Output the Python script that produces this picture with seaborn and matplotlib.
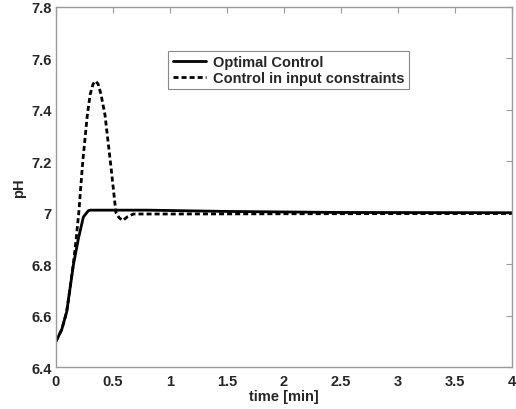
import matplotlib
matplotlib.use("Agg")
import matplotlib.pyplot as plt
import seaborn as sns
import pandas as pd

# Optimal control response
t_opt = [0, 0.05, 0.094, 0.123, 0.152, 0.196, 0.24, 0.284, 0.3, 0.8, 1.5, 2.5, 4.0]
ph_opt = [6.5, 6.545, 6.615, 6.705, 6.795, 6.898, 6.983, 7.008, 7.01, 7.01, 7.005, 7.001, 7.0]

# Control with input constraints
t_con = [0, 0.05, 0.094, 0.123, 0.152, 0.175, 0.2, 0.235, 0.275, 0.30, 0.325, 0.348,
         0.37, 0.395, 0.43, 0.482, 0.526, 0.555, 0.585, 0.63, 0.68, 1.0, 2.0, 4.0]
ph_con = [6.5, 6.545, 6.615, 6.705, 6.80, 6.89, 7.0, 7.2, 7.38, 7.46, 7.50, 7.512,
          7.50, 7.46, 7.38, 7.18, 7.0, 6.98, 6.97, 6.985, 6.995, 6.995, 6.996, 6.997]

labels = ["Optimal Control", "Control in input constraints"]
x_ticks = [0, 0.5, 1, 1.5, 2, 2.5, 3, 3.5, 4]
x_tick_labels = ["0", "0.5", "1", "1.5", "2", "2.5", "3", "3.5", "4"]
y_ticks = [6.4, 6.6, 6.8, 7.0, 7.2, 7.4, 7.6, 7.8]
y_tick_labels = ["6.4", "6.6", "6.8", "7", "7.2", "7.4", "7.6", "7.8"]

sns.set_style("white")
plt.rcParams["font.family"] = ["Liberation Sans", "DejaVu Sans"]
plt.rcParams["font.weight"] = "bold"

df_opt = pd.DataFrame({"time": t_opt, "pH": ph_opt})
df_con = pd.DataFrame({"time": t_con, "pH": ph_con})

fig = plt.figure(figsize=(5.16, 4.10), dpi=100)
ax = fig.add_axes([0.1085, 0.1024, 0.8835, 0.8781])

sns.lineplot(data=df_opt, x="time", y="pH", ax=ax, color="black", linewidth=2.0,
             label=labels[0], estimator=None, sort=False)
sns.lineplot(data=df_con, x="time", y="pH", ax=ax, color="black", linewidth=2.0,
             linestyle=(0, (1.8, 1.1)), label=labels[1], estimator=None, sort=False)

fs = 10.5
ax.set_xlim(0, 4)
ax.set_ylim(6.4, 7.8)
ax.set_xticks(x_ticks)
ax.set_xticklabels(x_tick_labels, fontsize=fs, fontweight="bold")
ax.set_yticks(y_ticks)
ax.set_yticklabels(y_tick_labels, fontsize=fs, fontweight="bold")
ax.tick_params(direction="in", length=4, top=True, right=True, color="#999999")
ax.tick_params(axis="x", pad=5)
ax.tick_params(axis="y", pad=3)
for s in ax.spines.values():
    s.set_color("#999999")
    s.set_linewidth(1.0)
ax.set_xlabel("time [min]", fontsize=fs, fontweight="bold", labelpad=1)
ax.set_ylabel("pH", fontsize=fs, fontweight="bold", labelpad=4)

leg = ax.legend(loc="upper left", bbox_to_anchor=(0.246, 0.878), fontsize=fs,
                frameon=True, fancybox=False, edgecolor="#888888", framealpha=1,
                handlelength=2.3, borderpad=0.3, labelspacing=0.1, handletextpad=0.5,
                borderaxespad=0)
leg.get_frame().set_linewidth(0.8)
for txt in leg.get_texts():
    txt.set_fontweight("bold")

fig.savefig("out.png", dpi=100)
